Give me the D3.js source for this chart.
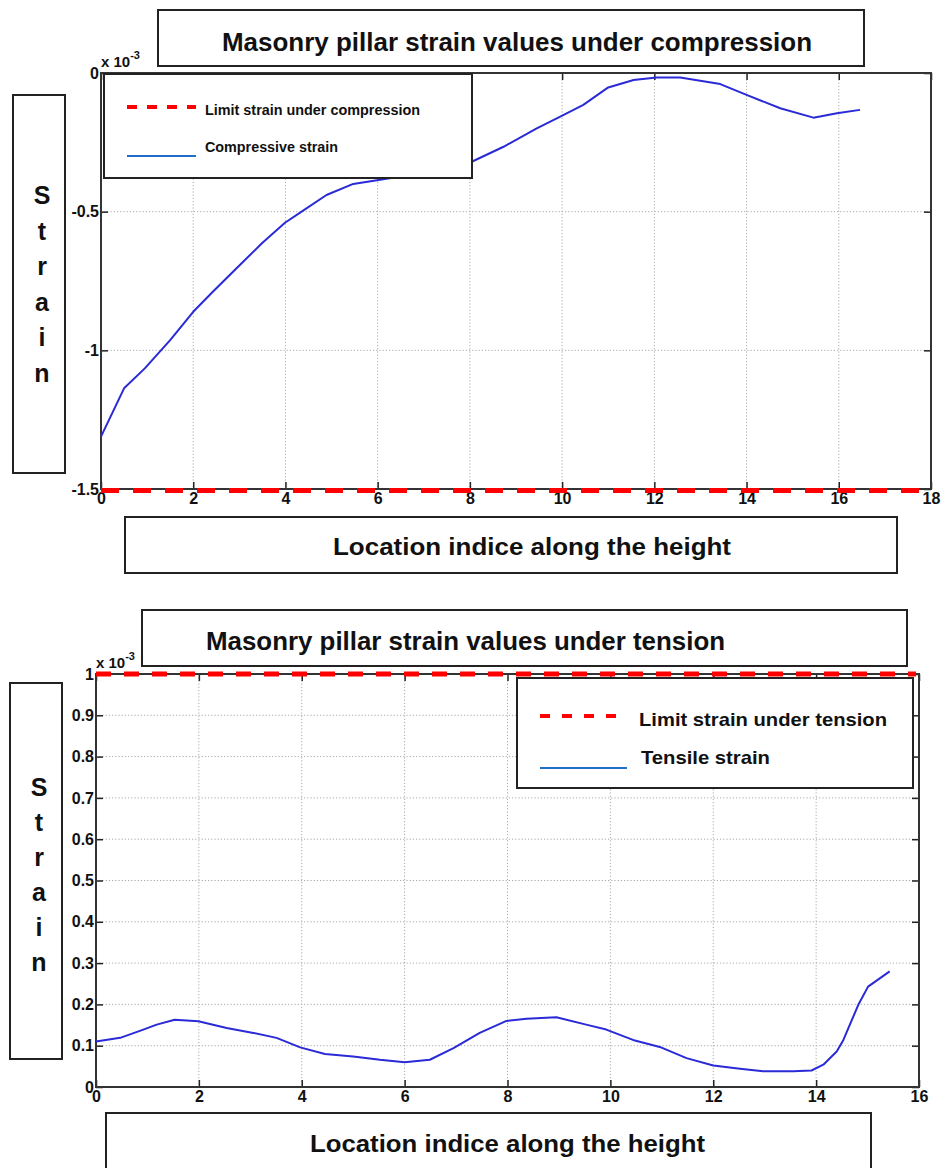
<!DOCTYPE html>
<html>
<head>
<meta charset="utf-8">
<script src="https://cdn.jsdelivr.net/npm/d3@7"></script>
<style>
  html, body { margin: 0; padding: 0; background: #fff; }
  svg { display: block; }
  text { font-family: "Liberation Sans", Arial, sans-serif; font-weight: bold; fill: #111; }
</style>
</head>
<body>
<svg id="chart" width="944" height="1168"></svg>
<script>
// ---------- DATA (strain values in units of 1e-3) ----------
const compIndex = [0, 0.5, 0.95, 1.5, 2.0, 2.43, 2.94, 3.49, 3.99, 4.35, 4.89, 5.47, 6.02, 7.0, 8.04, 8.73, 9.45, 9.96, 10.46, 11.0, 11.55, 12.05, 12.56, 13.43, 14.0, 14.73, 15.45, 15.96, 16.46];
const compStrain = [-1.311, -1.137, -1.065, -0.963, -0.861, -0.788, -0.704, -0.614, -0.540, -0.500, -0.440, -0.400, -0.386, -0.36, -0.320, -0.266, -0.200, -0.157, -0.115, -0.052, -0.025, -0.016, -0.016, -0.040, -0.079, -0.127, -0.161, -0.145, -0.133];
const compLimit = -1.5;

const tensIndex = [0, 0.47, 0.92, 1.18, 1.53, 1.99, 2.54, 3.06, 3.51, 3.97, 4.45, 5.0, 5.52, 6.0, 6.49, 6.95, 7.46, 7.98, 8.37, 8.95, 9.53, 9.92, 10.44, 10.96, 11.48, 12.0, 12.52, 12.97, 13.56, 13.91, 14.14, 14.40, 14.53, 14.82, 15.01, 15.43];
const tensStrain = [0.110, 0.119, 0.139, 0.151, 0.163, 0.159, 0.143, 0.131, 0.119, 0.096, 0.080, 0.074, 0.066, 0.060, 0.066, 0.094, 0.131, 0.160, 0.165, 0.169, 0.151, 0.139, 0.114, 0.097, 0.070, 0.052, 0.044, 0.038, 0.038, 0.040, 0.054, 0.086, 0.114, 0.199, 0.243, 0.280];
const tensLimit = 1.0;

const compXTicks = [0, 2, 4, 6, 8, 10, 12, 14, 16, 18];
const compYTicks = [0, -0.5, -1, -1.5];
const compYTickLabels = ["0", "-0.5", "-1", "-1.5"];
const tensXTicks = [0, 2, 4, 6, 8, 10, 12, 14, 16];
const tensYTicks = [0, 0.1, 0.2, 0.3, 0.4, 0.5, 0.6, 0.7, 0.8, 0.9, 1];
const tensYTickLabels = ["0", "0.1", "0.2", "0.3", "0.4", "0.5", "0.6", "0.7", "0.8", "0.9", "1"];

const titles = ["Masonry pillar strain values under compression", "Masonry pillar strain values under tension"];
const xLabel = "Location indice along the height";
const yLabelLetters = ["S", "t", "r", "a", "i", "n"];
const legendComp = ["Limit strain under compression", "Compressive strain"];
const legendTens = ["Limit strain under tension", "Tensile strain"];

// ---------- DRAW ----------
const svg = d3.select("#chart");
svg.append("rect").attr("width", 944).attr("height", 1168).attr("fill", "#fff");

function box(x, y, w, h) {
  svg.append("rect").attr("x", x).attr("y", y).attr("width", w).attr("height", h)
    .attr("fill", "#fff").attr("stroke", "#222").attr("stroke-width", 2);
}
function fitText(x, y, str, size, len, anchor) {
  return svg.append("text").attr("x", x).attr("y", y).attr("font-size", size)
    .attr("text-anchor", anchor || "start")
    .attr("textLength", len).attr("lengthAdjust", "spacingAndGlyphs").text(str);
}

function panel(cfg) {
  const x = d3.scaleLinear().domain(cfg.xDomain).range([cfg.left, cfg.right]);
  const y = d3.scaleLinear().domain(cfg.yDomain).range([cfg.bottom, cfg.top]);
  const g = svg.append("g");

  // grid
  g.append("g").selectAll("line").data(cfg.xTicks.slice(1, -1)).join("line")
    .attr("x1", d => x(d)).attr("x2", d => x(d)).attr("y1", cfg.top).attr("y2", cfg.bottom)
    .attr("stroke", "#aaa").attr("stroke-width", 1).attr("stroke-dasharray", "1.2,2");
  g.append("g").selectAll("line").data(cfg.yTicks.filter(v => v !== cfg.yDomain[0] && v !== cfg.yDomain[1])).join("line")
    .attr("y1", d => y(d)).attr("y2", d => y(d)).attr("x1", cfg.left).attr("x2", cfg.right)
    .attr("stroke", "#aaa").attr("stroke-width", 1).attr("stroke-dasharray", "1.2,2");

  // axes (ticks inward on all sides)
  const ax = g.append("g").attr("class", "axes");
  const bottomAxis = d3.axisBottom(x).tickValues(cfg.xTicks).tickSizeInner(-7).tickSizeOuter(0).tickPadding(4).tickFormat(d3.format("d"));
  const topAxis = d3.axisTop(x).tickValues(cfg.xTicks).tickSizeInner(-7).tickSizeOuter(0).tickFormat("");
  const leftAxis = d3.axisLeft(y).tickValues(cfg.yTicks).tickSizeInner(-7).tickSizeOuter(0).tickPadding(2)
    .tickFormat((d, i) => cfg.yTickLabels[i]);
  const rightAxis = d3.axisRight(y).tickValues(cfg.yTicks).tickSizeInner(-7).tickSizeOuter(0).tickFormat("");
  ax.append("g").attr("transform", `translate(0,${cfg.bottom})`).call(bottomAxis);
  ax.append("g").attr("transform", `translate(0,${cfg.top})`).call(topAxis);
  ax.append("g").attr("transform", `translate(${cfg.left},0)`).call(leftAxis);
  ax.append("g").attr("transform", `translate(${cfg.right},0)`).call(rightAxis);
  ax.selectAll("path.domain").attr("stroke", "none");
  ax.selectAll(".tick line").attr("stroke", "#222").attr("stroke-width", 1.5);
  ax.selectAll(".tick text").attr("font-size", cfg.tickFont).attr("font-weight", "bold")
    .attr("font-family", "'Liberation Sans', Arial, sans-serif").attr("fill", "#111");

  // frame
  g.append("rect").attr("x", cfg.left).attr("y", cfg.top)
    .attr("width", cfg.right - cfg.left).attr("height", cfg.bottom - cfg.top)
    .attr("fill", "none").attr("stroke", "#333").attr("stroke-width", 2);

  // limit line
  g.append("line").attr("x1", cfg.left).attr("x2", cfg.limitEnd)
    .attr("y1", y(cfg.limit)).attr("y2", y(cfg.limit))
    .attr("transform", `translate(0,${cfg.limitShift})`)
    .attr("stroke", "#ff0000").attr("stroke-width", 5).attr("stroke-dasharray", cfg.limitDash);

  // strain curve
  const pts = cfg.xs.map((v, i) => [v, cfg.ys[i]]);
  g.append("path").datum(pts)
    .attr("d", d3.line().x(d => x(d[0])).y(d => y(d[1])))
    .attr("fill", "none").attr("stroke", "#2a2ad6").attr("stroke-width", 2)
    .attr("stroke-linejoin", "round");

  // multiplier
  const mt = svg.append("text").attr("x", cfg.multX).attr("y", cfg.multY).attr("font-size", 15);
  mt.append("tspan").text("x 10");
  mt.append("tspan").attr("dy", -8).attr("font-size", 11).text("-3");

  return { x, y };
}

// ---- Top panel: compression ----
panel({
  left: 101, right: 931, top: 73, bottom: 489,
  xDomain: [0, 18], yDomain: [-1.5, 0],
  xTicks: compXTicks, yTicks: compYTicks, yTickLabels: compYTickLabels,
  xs: compIndex, ys: compStrain, limit: compLimit, limitEnd: 929, limitShift: 1.5,
  limitDash: "18,14", tickFont: 16, multX: 101, multY: 67
});

// ---- Bottom panel: tension ----
panel({
  left: 96, right: 919, top: 674, bottom: 1087,
  xDomain: [0, 16], yDomain: [0, 1],
  xTicks: tensXTicks, yTicks: tensYTicks, yTickLabels: tensYTickLabels,
  xs: tensIndex, ys: tensStrain, limit: tensLimit, limitEnd: 916, limitShift: 0,
  limitDash: "15,13", tickFont: 16, multX: 96, multY: 668
});

// ---- Legends ----
function legend(bx, by, bw, bh, items, lineX1, lineX2, yRed, yBlue, textX, baseRed, baseBlue, fs, lenRed, lenBlue, dash) {
  box(bx, by, bw, bh);
  svg.append("line").attr("x1", lineX1).attr("x2", lineX2).attr("y1", yRed).attr("y2", yRed)
    .attr("stroke", "#ff0000").attr("stroke-width", 4).attr("stroke-dasharray", dash);
  svg.append("line").attr("x1", lineX1).attr("x2", lineX2).attr("y1", yBlue).attr("y2", yBlue)
    .attr("stroke", "#1f6fc8").attr("stroke-width", 2);
  fitText(textX[0], baseRed, items[0], fs, lenRed);
  fitText(textX[1], baseBlue, items[1], fs, lenBlue);
}
legend(104, 74, 368, 104, legendComp, 127, 196, 107, 156, [205, 205], 115, 152, 14.5, 215, 133, "10,10");
legend(517, 678, 396, 110, legendTens, 540, 627, 716, 768, [639, 641], 726, 764, 19, 248, 129, "10,12");

// ---- Title boxes ----
box(158, 10, 706, 56);
fitText(222, 51, titles[0], 26, 590);
box(142, 610, 765, 56);
fitText(206, 650, titles[1], 26, 519);

// ---- X label boxes ----
box(125, 517, 772, 56);
fitText(333, 555, xLabel, 24, 398);
box(106, 1113, 765, 70);
fitText(310, 1152, xLabel, 24, 395);

// ---- Y label boxes (stacked letters) ----
function yLabel(bx, by, bw, bh, cx, firstY, step) {
  box(bx, by, bw, bh);
  svg.append("g").selectAll("text").data(yLabelLetters).join("text")
    .attr("x", cx).attr("y", (d, i) => firstY + i * step)
    .attr("text-anchor", "middle").attr("dominant-baseline", "central")
    .attr("font-size", 25).text(d => d);
}
yLabel(13, 95, 52, 378, 42, 195, 35.6);
yLabel(10, 683, 52, 376, 39, 787, 35);
</script>
</body>
</html>
